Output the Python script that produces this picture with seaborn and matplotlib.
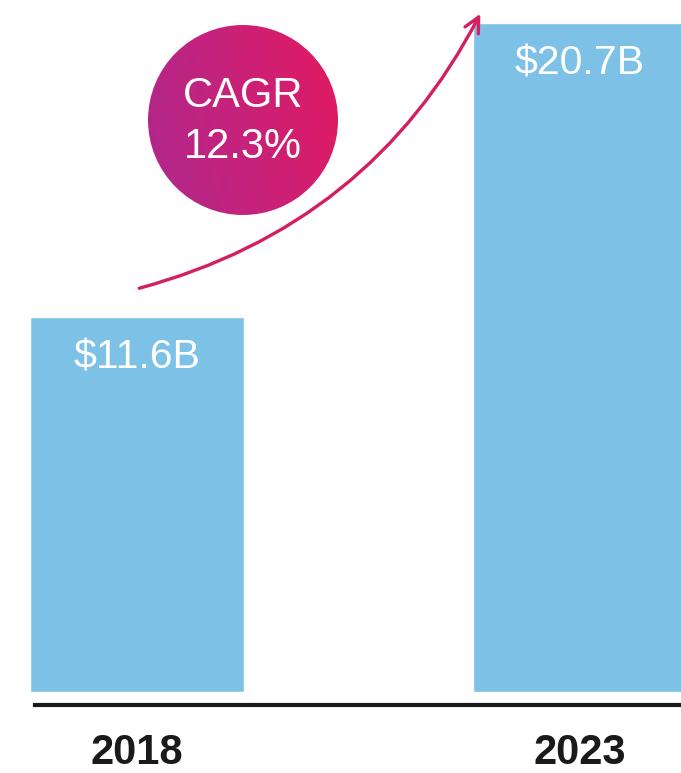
import matplotlib
matplotlib.use("Agg")
import matplotlib.pyplot as plt
import seaborn as sns
import numpy as np
import pandas as pd
from matplotlib.patches import Circle
from matplotlib.colors import LinearSegmentedColormap

years = ["2018", "2023"]
values = [11.6, 20.7]
value_labels = ["$11.6B", "$20.7B"]
cagr_lines = ["CAGR", "12.3%"]

sns.set_theme(style="white")
plt.rcParams['font.family'] = ['Liberation Sans', 'DejaVu Sans']

W, H = 681, 773
fig = plt.figure(figsize=(W / 100, H / 100), dpi=100)
ax = fig.add_axes([0, 81 / H, 1, 1 - 81 / H])

df = pd.DataFrame({"year": years, "value": values})
sns.barplot(data=df, x="year", y="value", color="#7DC1E7", saturation=1,
            width=0.483, ax=ax)

k = 32.3  # px per unit
ax.set_ylim(0, 692 / k)
ax.set_xlim(-137 / 443, (681 - 137) / 443)

# value labels inside bars
for i, (v, lab) in enumerate(zip(values, value_labels)):
    ax.annotate(lab, xy=(i, v), xytext=(0, -29), textcoords="offset points",
                ha="center", va="center", color="white", fontsize=29.5)

# axis styling
for s in ["top", "right", "left"]:
    ax.spines[s].set_visible(False)
ax.spines["bottom"].set_position(("outward", 9.4))
ax.spines["bottom"].set_linewidth(3.0)
ax.spines["bottom"].set_color("#1a1a1a")
ax.spines["bottom"].set_bounds((35 - 137) / 443, 2)
ax.set_yticks([])
ax.set_xlabel("")
ax.set_ylabel("")
ax.tick_params(axis="x", length=0, pad=20)
for t in ax.get_xticklabels():
    t.set_fontsize(30)
    t.set_fontweight("bold")
    t.set_color("#1a1a1a")

# growth arrow
ax.annotate("", xy=(0.775, 21.0), xytext=(0.005, 12.5),
            arrowprops=dict(arrowstyle="->,head_length=0.9,head_width=0.45",
                            connectionstyle="arc3,rad=0.22",
                            color="#D31F5C", lw=2.4, shrinkA=0, shrinkB=0),
            annotation_clip=False)

# CAGR bubble
cx, cy, r = 243, 120, 95
cax = fig.add_axes([(cx - r) / W, (H - cy - r) / H, 2 * r / W, 2 * r / H])
cax.set_axis_off()
cmap = LinearSegmentedColormap.from_list("g", ["#AE288C", "#C8227A", "#E21A60"])
xx, yy = np.meshgrid(np.linspace(0, 1, 200), np.linspace(0, 1, 200))
grad = (xx * 0.8 + (1 - yy) * 0.2)
im = cax.imshow(grad, cmap=cmap, extent=(0, 1, 0, 1), origin="upper",
                aspect="auto")
circ = Circle((0.5, 0.5), 0.5, transform=cax.transAxes, facecolor="none",
              edgecolor="none")
cax.add_patch(circ)
im.set_clip_path(circ)
cax.set_xlim(0, 1)
cax.set_ylim(0, 1)
for line, yb in zip(cagr_lines, [0.568, 0.30]):
    cax.text(0.5, yb, line, ha="center", va="baseline",
             color="white", fontsize=30, transform=cax.transAxes)

fig.savefig("out.png", dpi=100)
